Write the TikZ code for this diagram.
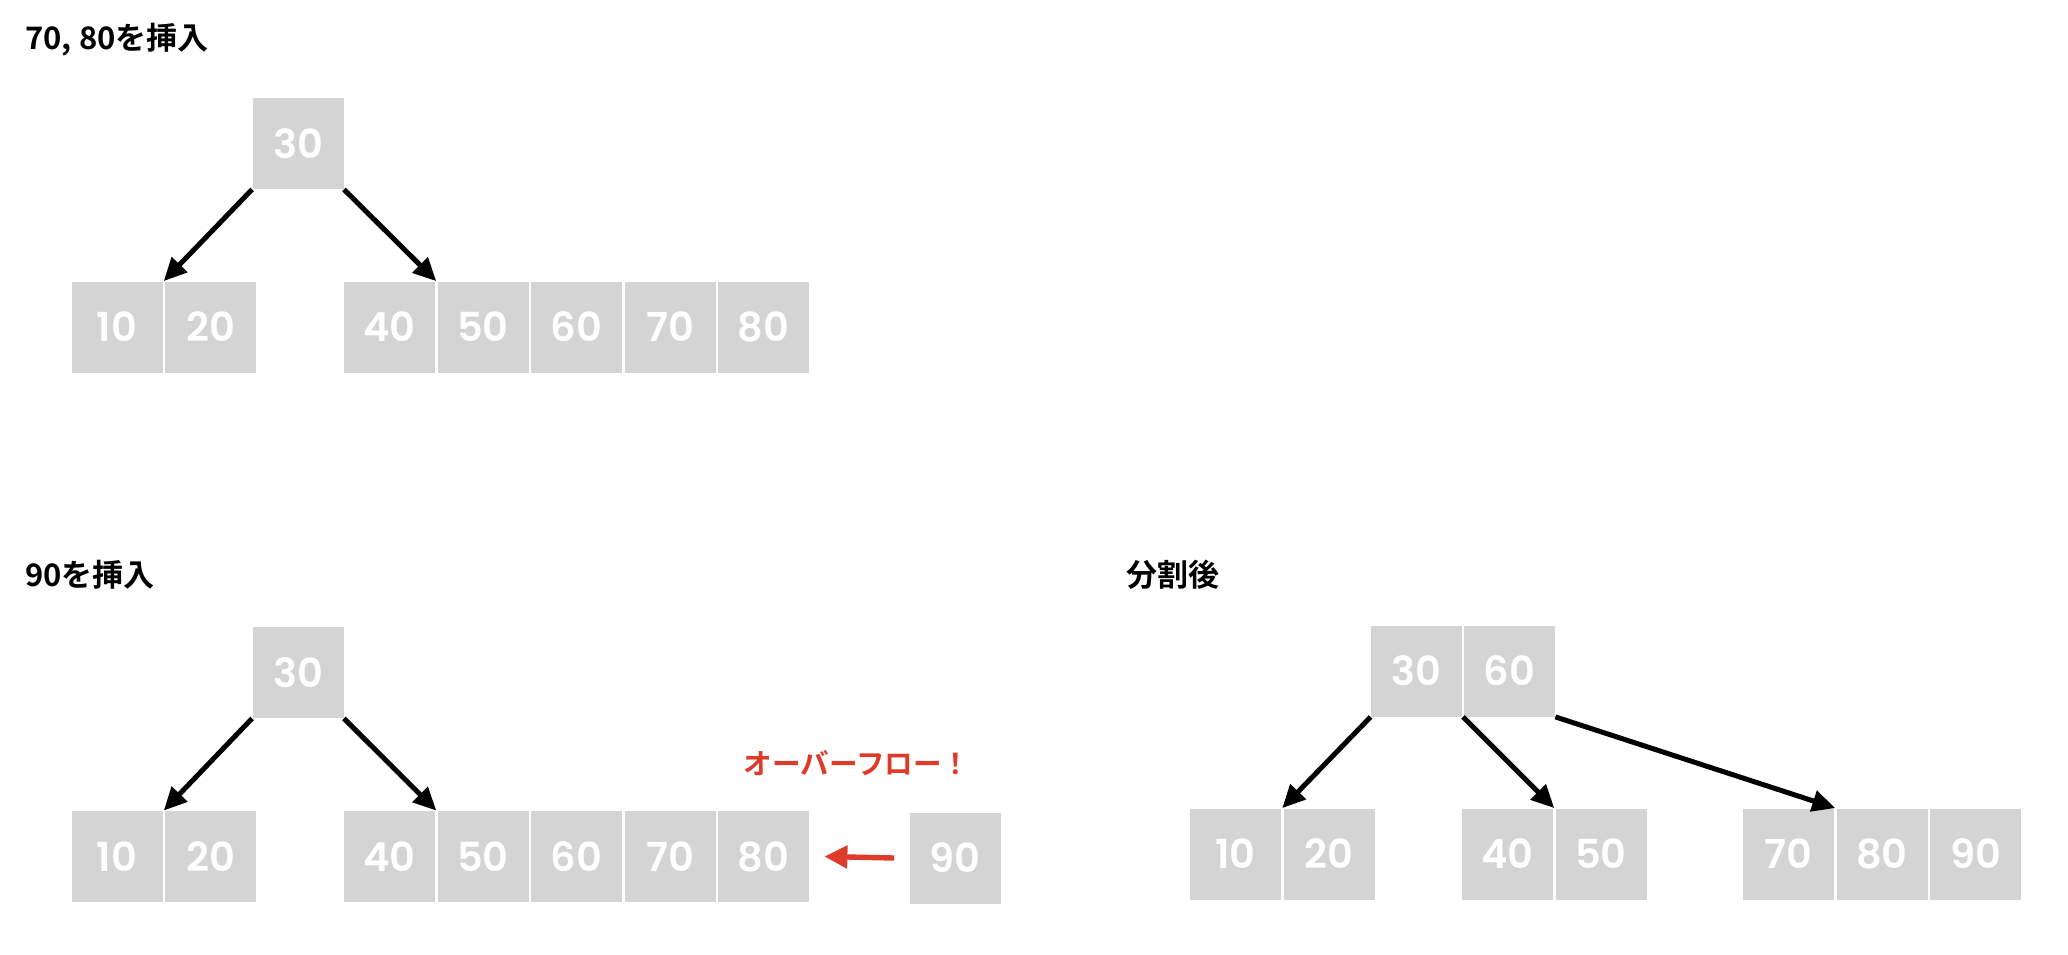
\documentclass[tikz,border=0pt]{standalone}
\usepackage{fontspec}
\setmainfont{Noto Sans CJK JP}[BoldFont={Noto Sans CJK JP Bold}]
\newfontfamily\numfont{Poppins}[BoldFont={Poppins SemiBold}]
\usetikzlibrary{arrows.meta,calc}
\definecolor{cellgray}{HTML}{D4D4D4}
\definecolor{warnred}{HTML}{DE3B2A}
\tikzset{
  cell/.style={fill=cellgray, draw=none, minimum size=45.5pt, inner sep=0pt, text=white, font=\numfont\fontsize{20}{20}\selectfont\bfseries},
  title/.style={anchor=west, inner sep=0pt, text=black, font=\fontsize{15.5}{15.5}\selectfont\bfseries},
  arr/.style={draw=black, line width=2.5pt, -{Triangle[length=11.5pt,width=10.5pt]}},
  redarr/.style={draw=warnred, line width=2.7pt, -{Triangle[length=11.5pt,width=11pt]}},
  warn/.style={inner sep=0pt, text=warnred, font=\fontsize{14.3}{14.3}\selectfont\bfseries}
}
\begin{document}
\begin{tikzpicture}[x=0.5pt,y=-0.5pt]
\useasboundingbox[fill=white] (0,0) rectangle (2068,954);

% ---- top: 70, 80 inserted
\node[title] (t1) at (25,40) {70, 80を挿入};
\node[cell] (a30) at (298,143.5) {30};
\node[cell] (a10) at (117,327) {10};
\node[cell] (a20) at (210.5,327) {20};
\node[cell] (a40) at (389.5,327) {40};
\node[cell] (a50) at (483,327) {50};
\node[cell] (a60) at (576.5,327) {60};
\node[cell] (a70) at (670,327) {70};
\node[cell] (a80) at (763.5,327) {80};
\draw[arr] (a30.south west) -- ($(a10.north east)!0.5!(a20.north west)$);
\draw[arr] (a30.south east) -- ($(a40.north east)!0.5!(a50.north west)$);

% ---- bottom left: 90 inserted
\node[title] (t2) at (25,575) {90を挿入};
\node[cell] (b30) at (298,672.5) {30};
\node[cell] (b10) at (117,856.5) {10};
\node[cell] (b20) at (210.5,856.5) {20};
\node[cell] (b40) at (389.5,856.5) {40};
\node[cell] (b50) at (483,856.5) {50};
\node[cell] (b60) at (576.5,856.5) {60};
\node[cell] (b70) at (670,856.5) {70};
\node[cell] (b80) at (763.5,856.5) {80};
\node[cell] (b90) at (955,858) {90};
\draw[arr] (b30.south west) -- ($(b10.north east)!0.5!(b20.north west)$);
\draw[arr] (b30.south east) -- ($(b40.north east)!0.5!(b50.north west)$);
\node[warn] (ov) at (857,763) {オーバーフロー！};
\draw[redarr] ([xshift=-7.5pt]b90.west) -- ([xshift=7.5pt]b80.east);

% ---- bottom right: after split
\node[title] (t3) at (1126,575) {分割後};
\node[cell] (c30) at (1416.5,671) {30};
\node[cell] (c60) at (1509.5,671) {60};
\node[cell] (c10) at (1235.5,854) {10};
\node[cell] (c20) at (1329,854) {20};
\node[cell] (c40) at (1507.5,854) {40};
\node[cell] (c50) at (1601,854) {50};
\node[cell] (c70) at (1788.5,854) {70};
\node[cell] (c80) at (1882,854) {80};
\node[cell] (c90) at (1975.5,854) {90};
\draw[arr] (c30.south west) -- ($(c10.north east)!0.5!(c20.north west)$);
\draw[arr] ($(c30.south east)!0.5!(c60.south west)$) -- ($(c40.north east)!0.5!(c50.north west)$);
\draw[arr] (c60.south east) -- ($(c70.north east)!0.5!(c80.north west)$);
\end{tikzpicture}
\end{document}
